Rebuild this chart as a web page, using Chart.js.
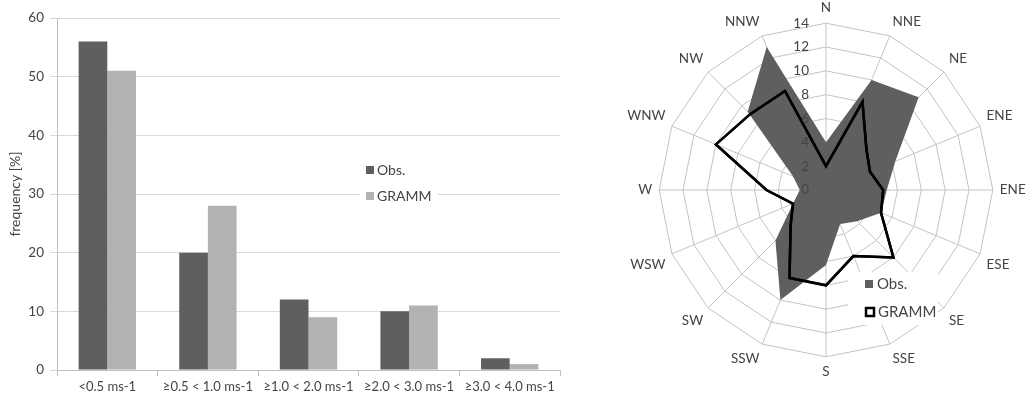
<!DOCTYPE html>
<html>
<head>
<meta charset="utf-8">
<script src="https://cdn.jsdelivr.net/npm/chart.js@4.4.0/dist/chart.umd.min.js"></script>
<style>
html,body{margin:0;padding:0;background:#fff;overflow:hidden;}
body{width:1026px;height:400px;position:relative;}
#barBox{position:absolute;left:0;top:0;width:600px;height:400px;}
#radarBox{position:absolute;left:596px;top:0;width:460px;height:380px;}
</style>
</head>
<body>
<div id="barBox"><canvas id="chartBar"></canvas></div>
<div id="radarBox"><canvas id="chartRadar"></canvas></div>
<script>
// dati
const speedClasses = ['<0.5 ms-1', '≥0.5 < 1.0 ms-1', '≥1.0 < 2.0 ms-1', '≥2.0 < 3.0 ms-1', '≥3.0 < 4.0 ms-1'];
const freqObs = [56, 20, 12, 10, 2];
const freqGramm = [51, 28, 9, 11, 1];

const directions = ['N','NNE','NE','ENE','ENE','ESE','SE','SSE','S','SSW','SW','WSW','W','WNW','NW','NNW'];
const dirObs   = [4, 10, 11, 6.3, 5.1, 5, 3.7, 3.1, 6.3, 10, 6, 3, 2.2, 3, 9.3, 13];
const dirGramm = [2, 8, 4.8, 4, 4.8, 5, 8, 6, 8, 8, 4.2, 3, 5, 10, 9, 9];
const ringTicks = [0, 2, 4, 6, 8, 10, 12, 14];

const COLORS = {
  obs: '#5f5f5f',
  gramm: '#b2b2b2',
  line: '#000000',
  grid: '#d9d9d9',
  axis: '#bfbfbf',
  radarGrid: '#c4c4c4',
  text: '#444444'
};
const FONT = 'Lato, "Open Sans", sans-serif';

// legenda del grafico a barre, con fondo bianco sopra la griglia
const barLegend = {
  id: 'barLegend',
  afterDraw(chart){
    const {ctx, chartArea:a} = chart;
    ctx.save();
    ctx.fillStyle = '#fff';
    ctx.fillRect(a.left + 303, a.top + 140, 78, 47);
    ctx.font = '14px ' + FONT;
    ctx.textBaseline = 'middle';
    ctx.textAlign = 'left';
    ctx.fillStyle = COLORS.obs;
    ctx.fillRect(a.left + 309, a.top + 148, 8, 8);
    ctx.fillStyle = COLORS.gramm;
    ctx.fillRect(a.left + 309, a.top + 174, 8, 8);
    ctx.fillStyle = COLORS.text;
    ctx.fillText('Obs.', a.left + 320, a.top + 152);
    ctx.fillText('GRAMM', a.left + 320, a.top + 178);
    ctx.restore();
  }
};

// tick del radar a sinistra dell'asse N, linea GRAMM ridisegnata sopra la griglia, legenda
const radarExtras = {
  id: 'radarExtras',
  afterDraw(chart){
    const {ctx} = chart;
    const r = chart.scales.r;
    const cx = r.xCenter, cy = r.yCenter;
    chart.getDatasetMeta(0).controller.draw();
    ctx.save();
    ctx.font = '13.5px ' + FONT;
    ctx.fillStyle = COLORS.text;
    ctx.textAlign = 'right';
    ctx.textBaseline = 'middle';
    ringTicks.forEach(v => {
      ctx.fillText(String(v), cx - 17, cy - r.getDistanceFromCenterForValue(v));
    });
    ctx.fillStyle = '#fff';
    ctx.fillRect(cx + 22, cy + 82, 90, 53);
    ctx.fillStyle = COLORS.obs;
    ctx.fillRect(cx + 39, cy + 90, 8, 8);
    ctx.strokeStyle = COLORS.line;
    ctx.lineWidth = 2.5;
    ctx.strokeRect(cx + 40, cy + 118, 8, 8);
    ctx.font = '15px ' + FONT;
    ctx.fillStyle = COLORS.text;
    ctx.textAlign = 'left';
    ctx.fillText('Obs.', cx + 51, cy + 94);
    ctx.fillText('GRAMM', cx + 52, cy + 122);
    ctx.restore();
  }
};

new Chart(document.getElementById('chartBar'), {
  type: 'bar',
  data: {
    labels: speedClasses,
    datasets: [
      {label: 'Obs.', data: freqObs, backgroundColor: COLORS.obs, borderWidth: 0, categoryPercentage: 0.57, barPercentage: 1},
      {label: 'GRAMM', data: freqGramm, backgroundColor: COLORS.gramm, borderWidth: 0, categoryPercentage: 0.57, barPercentage: 1}
    ]
  },
  options: {
    responsive: true,
    maintainAspectRatio: false,
    animation: false,
    layout: {padding: {top: 18, right: 40, left: 0, bottom: 0}},
    plugins: {legend: {display: false}, tooltip: {enabled: false}},
    scales: {
      x: {
        grid: {offset: true, drawOnChartArea: false, drawTicks: true, tickLength: 6, color: COLORS.axis},
        border: {color: COLORS.axis},
        ticks: {font: {family: FONT, size: 13}, color: COLORS.text, padding: 3, maxRotation: 0, autoSkip: false},
        afterFit(s){ s.height = 30; }
      },
      y: {
        min: 0, max: 60,
        ticks: {stepSize: 10, font: {family: FONT, size: 13.5}, color: COLORS.text, padding: 6},
        grid: {color: COLORS.grid, tickLength: 7},
        border: {color: COLORS.axis},
        title: {display: true, text: 'frequency [%]', font: {family: FONT, size: 14}, color: COLORS.text, padding: {top: 7, bottom: 0}},
        afterFit(s){ s.width = 57; }
      }
    }
  },
  plugins: [barLegend]
});

new Chart(document.getElementById('chartRadar'), {
  type: 'radar',
  data: {
    labels: directions,
    datasets: [
      {label: 'GRAMM', data: dirGramm, borderColor: COLORS.line, borderWidth: 2.5, fill: false, pointRadius: 0, tension: 0, order: 1},
      {label: 'Obs.', data: dirObs, backgroundColor: COLORS.obs, borderWidth: 0, fill: true, pointRadius: 0, tension: 0, order: 2}
    ]
  },
  options: {
    responsive: true,
    maintainAspectRatio: false,
    animation: false,
    plugins: {legend: {display: false}, tooltip: {enabled: false}},
    scales: {
      r: {
        min: 0, max: 14, startAngle: 0, z: 1,
        ticks: {display: false, stepSize: 2},
        grid: {color: COLORS.radarGrid, lineWidth: 1},
        angleLines: {color: COLORS.radarGrid, lineWidth: 1},
        pointLabels: {font: {family: FONT, size: 13.5}, color: COLORS.text, padding: 7}
      }
    }
  },
  plugins: [radarExtras]
});
</script>
</body>
</html>
